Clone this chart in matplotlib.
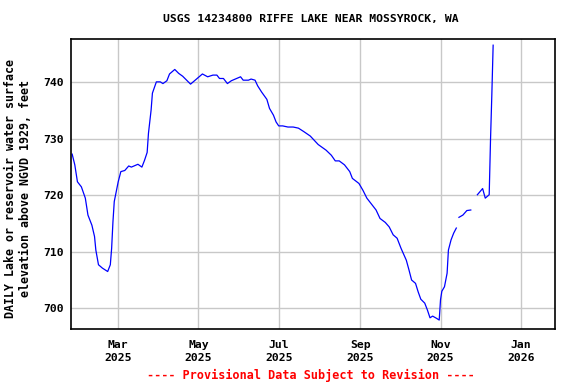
import numpy as np
import pandas as pd
import matplotlib
matplotlib.use("Agg")
import matplotlib.pyplot as plt
import matplotlib.dates as mdates

# daily gage height readings (NaN = missing record)
dates = ["2025-01-25", "2025-01-27", "2025-01-29", "2025-02-01", "2025-02-04", "2025-02-06",
         "2025-02-09", "2025-02-11", "2025-02-12", "2025-02-14", "2025-02-17", "2025-02-21",
         "2025-02-23", "2025-02-24", "2025-02-25", "2025-02-26", "2025-03-01", "2025-03-03",
         "2025-03-06", "2025-03-09", "2025-03-11", "2025-03-16", "2025-03-19", "2025-03-21",
         "2025-03-23", "2025-03-24", "2025-03-26", "2025-03-27", "2025-03-30", "2025-04-02",
         "2025-04-04", "2025-04-07", "2025-04-09", "2025-04-13", "2025-04-16", "2025-04-19",
         "2025-04-22", "2025-04-25", "2025-04-28", "2025-05-01", "2025-05-04", "2025-05-08",
         "2025-05-12", "2025-05-15", "2025-05-17", "2025-05-20", "2025-05-23", "2025-05-26",
         "2025-05-30", "2025-06-02", "2025-06-04", "2025-06-08", "2025-06-10", "2025-06-13",
         "2025-06-15", "2025-06-18", "2025-06-22", "2025-06-24", "2025-06-27", "2025-06-29",
         "2025-07-01", "2025-07-04", "2025-07-08", "2025-07-12", "2025-07-16", "2025-07-20",
         "2025-07-25", "2025-07-31", "2025-08-06", "2025-08-10", "2025-08-13", "2025-08-16",
         "2025-08-20", "2025-08-24", "2025-08-26", "2025-08-31", "2025-09-03", "2025-09-06",
         "2025-09-09", "2025-09-13", "2025-09-16", "2025-09-20", "2025-09-23", "2025-09-26",
         "2025-09-29", "2025-10-02", "2025-10-06", "2025-10-08", "2025-10-10", "2025-10-13",
         "2025-10-15", "2025-10-17", "2025-10-20", "2025-10-22", "2025-10-24", "2025-10-26",
         "2025-10-29", "2025-10-31", "2025-11-01", "2025-11-02", "2025-11-04", "2025-11-06",
         "2025-11-07", "2025-11-09", "2025-11-11", "2025-11-13", "2025-11-14", "2025-11-15",
         "2025-11-18", "2025-11-21", "2025-11-24", "2025-11-26", "2025-11-29", "2025-12-03",
         "2025-12-05", "2025-12-08", "2025-12-09", "2025-12-10", "2025-12-11"]
elev = [727.3, 725.4, 722.4, 721.5, 719.5, 716.5,
        714.7, 712.7, 710.3, 707.7, 707.1, 706.5,
        707.7, 710.6, 715.3, 718.9, 722.4, 724.2,
        724.4, 725.2, 725.0, 725.5, 725.0, 726.2,
        727.6, 731.0, 735.1, 738.1, 740.1, 740.1,
        739.8, 740.3, 741.5, 742.3, 741.6, 741.1,
        740.4, 739.7, 740.3, 740.9, 741.5, 741.0,
        741.3, 741.3, 740.7, 740.7, 739.8, 740.3,
        740.7, 741.0, 740.4, 740.4, 740.6, 740.4,
        739.4, 738.3, 737.0, 735.4, 734.2, 733.0,
        732.3, 732.3, 732.1, 732.1, 731.9, 731.3,
        730.5, 729.0, 728.0, 727.1, 726.1, 726.1,
        725.4, 724.2, 723.0, 722.1, 720.9, 719.5,
        718.6, 717.4, 715.9, 715.2, 714.4, 713.0,
        712.4, 710.6, 708.5, 706.8, 705.0, 704.4,
        702.9, 701.6, 700.9, 699.7, 698.3, 698.6,
        698.2, 697.9, 701.5, 703.0, 703.8, 706.2,
        710.3, 712.1, 713.3, 714.2, np.nan, 716.1,
        716.5, 717.3, 717.4, np.nan, 720.1, 721.2,
        719.5, 720.1, 729.8, 737.8, 746.6]

tick_dates = ["2025-03-01", "2025-05-01", "2025-07-01", "2025-09-01", "2025-11-01", "2026-01-01"]
yticks = [700, 710, 720, 730, 740]

x = pd.to_datetime(dates)
font = "DejaVu Sans Mono"

fig = plt.figure(figsize=(5.76, 3.84), dpi=100)
ax = fig.add_axes([0.123, 0.143, 0.8405, 0.7555])

ax.plot(x, elev, color="#0000ff", lw=0.9)

ax.set_xlim(pd.Timestamp("2025-01-24"), pd.Timestamp("2026-01-27"))
ax.set_ylim(696.3, 747.7)

ax.set_xticks(pd.to_datetime(tick_dates))
ax.xaxis.set_major_formatter(mdates.DateFormatter("%b\n%Y"))
ax.set_yticks(yticks)
ax.grid(True, color="#c8c8c8", lw=1)
ax.set_axisbelow(True)
ax.tick_params(axis="x", length=0, pad=8, labelsize=8.2)
ax.tick_params(axis="y", length=0, pad=5, labelsize=8.2)
for lab in ax.get_xticklabels() + ax.get_yticklabels():
    lab.set_fontfamily(font)
    lab.set_fontweight("bold")
    lab.set_linespacing(1.35)
for s in ax.spines.values():
    s.set_linewidth(1.2)

ax.set_ylabel("DAILY Lake or reservoir water surface\nelevation above NGVD 1929, feet",
              fontfamily=font, fontweight="bold", fontsize=8.4,
              linespacing=1.15)
ax.yaxis.set_label_coords(-0.081, 0.483)

fig.text(0.54, 0.95, "USGS 14234800 RIFFE LAKE NEAR MOSSYROCK, WA", ha="center", va="center",
         fontfamily=font, fontweight="bold", fontsize=8.2)
fig.text(0.54, 0.023, "---- Provisional Data Subject to Revision ----", ha="center", va="center",
         fontfamily=font, fontweight="bold", fontsize=8.5, color="red")

fig.savefig("out.png", dpi=100)
